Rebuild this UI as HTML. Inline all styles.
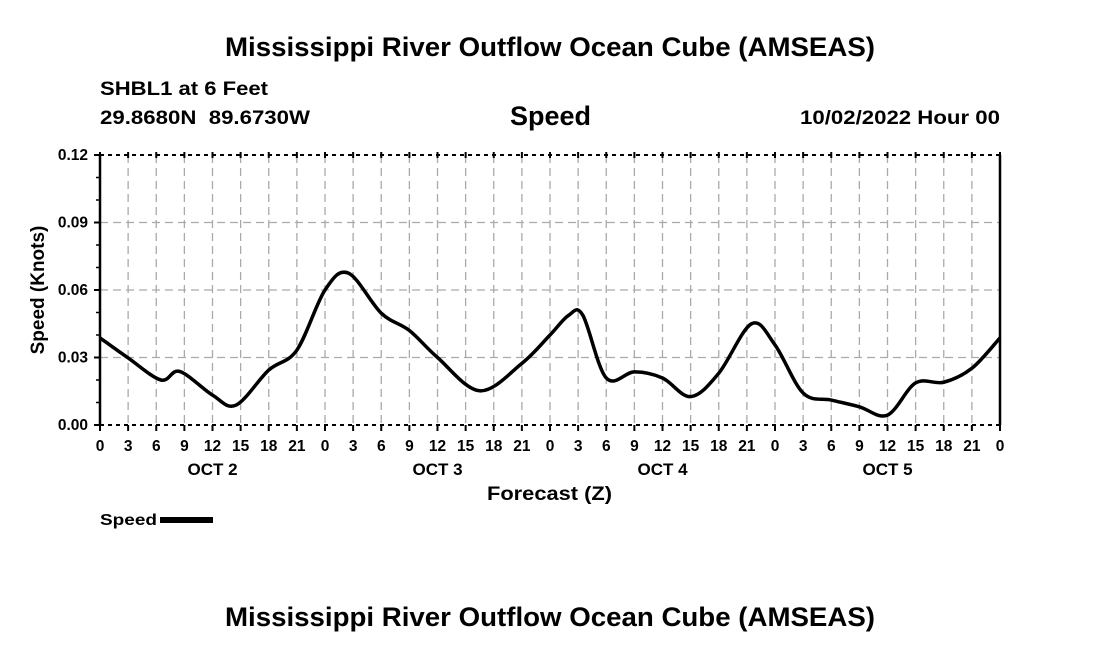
<!DOCTYPE html>
<html><head><meta charset="utf-8"><style>
body{margin:0;background:#fff;width:1100px;height:650px;overflow:hidden;font-family:"Liberation Sans",Arial,sans-serif}
svg text{font-family:"Liberation Sans",Arial,sans-serif;font-weight:bold;fill:#000}
</style></head><body>
<svg id="chart" width="1100" height="650" xmlns="http://www.w3.org/2000/svg">
<text x="225" y="56" font-size="27" textLength="650" lengthAdjust="spacingAndGlyphs">Mississippi River Outflow Ocean Cube (AMSEAS)</text>
<text x="100" y="95" font-size="19" textLength="168" lengthAdjust="spacingAndGlyphs">SHBL1 at 6 Feet</text>
<text x="100" y="124" font-size="19" textLength="210" lengthAdjust="spacingAndGlyphs">29.8680N&#160;&#160;89.6730W</text>
<text x="510" y="125" font-size="27" textLength="81" lengthAdjust="spacingAndGlyphs">Speed</text>
<text x="800" y="124" font-size="19" textLength="200" lengthAdjust="spacingAndGlyphs">10/02/2022 Hour 00</text>
<g id="grid"></g><g id="axes"></g><g id="series"></g>
<text transform="translate(44,290) rotate(-90)" font-size="19" text-anchor="middle">Speed (Knots)</text>
<text x="487" y="500" font-size="19" textLength="125" lengthAdjust="spacingAndGlyphs">Forecast (Z)</text>
<g>
<text x="100" y="525" font-size="16" textLength="57" lengthAdjust="spacingAndGlyphs">Speed</text>
<rect x="160" y="517" width="53" height="6" fill="#000"/>
</g>
<text x="225" y="626" font-size="27" textLength="650" lengthAdjust="spacingAndGlyphs">Mississippi River Outflow Ocean Cube (AMSEAS)</text>
</svg>
<script>
const hours=[0,3,6.5,8.5,12,14.5,18,21,24,26.5,30,33,36,40.5,45,48,50,51.5,54,57,60,63,66,69.5,72,75,78,81,84,87,90,93,96];
const speeds=[0.0387,0.0298,0.0200,0.0238,0.0133,0.0088,0.0244,0.0333,0.060,0.0675,0.0497,0.042,0.030,0.0152,0.0274,0.040,0.0488,0.0488,0.0209,0.0236,0.0209,0.0126,0.023,0.045,0.0356,0.0142,0.0111,0.0081,0.0044,0.0187,0.019,0.0252,0.0387];
const yTicks=[0,0.03,0.06,0.09,0.12];
const hourLabels=["0","3","6","9","12","15","18","21"];
const dayLabels=["OCT 2","OCT 3","OCT 4","OCT 5"];
const X0=100,X1=1000,Y0=425,Y1=155;
const sx=h=>X0+(h/96)*(X1-X0);
const sy=v=>Y0-(v/0.12)*(Y0-Y1);
const NS="http://www.w3.org/2000/svg";
function mk(t,a,p){const e=document.createElementNS(NS,t);for(const k in a)e.setAttribute(k,a[k]);p.appendChild(e);return e;}
const grid=document.getElementById('grid'),axes=document.getElementById('axes'),ser=document.getElementById('series');
for(let h=3;h<96;h+=3){const l=mk('line',{x1:sx(h),x2:sx(h),y1:Y1,y2:Y0,stroke:'#aaa','stroke-width':1.3,'stroke-dasharray':'8,5'},grid);

}
yTicks.forEach(v=>{if(v>0&&v<0.12){const l=mk('line',{x1:X0,x2:X1,y1:sy(v),y2:sy(v),stroke:'#aaa','stroke-width':1.3,'stroke-dasharray':'8,5'},grid);

}
const t=mk('text',{x:X0-12,y:sy(v)+5,'font-size':15.5,'text-anchor':'end'},axes);t.textContent=v.toFixed(2);


mk('line',{x1:X0-6,x2:X0,y1:sy(v),y2:sy(v),stroke:'#000','stroke-width':2},axes);});
for(let v=0.01;v<0.12;v+=0.01)mk('line',{x1:X0-4,x2:X0,y1:sy(v),y2:sy(v),stroke:'#000','stroke-width':1.5},axes);
mk('line',{x1:X0,x2:X0,y1:Y1,y2:Y0,stroke:'#000','stroke-width':2.5},axes);
mk('line',{x1:X1,x2:X1,y1:Y1,y2:Y0,stroke:'#000','stroke-width':2.5},axes);
mk('line',{x1:X0,x2:X1,y1:Y1,y2:Y1,stroke:'#000','stroke-width':2,'stroke-dasharray':'4,4'},axes);
mk('line',{x1:X0,x2:X1,y1:Y0,y2:Y0,stroke:'#000','stroke-width':2,'stroke-dasharray':'4,4'},axes);
for(let h=0;h<=96;h+=3){mk('line',{x1:sx(h),x2:sx(h),y1:Y0,y2:Y0+6,stroke:'#000','stroke-width':2},axes);
mk('line',{x1:sx(h),x2:sx(h),y1:Y1-3,y2:Y1+3,stroke:'#000','stroke-width':2},axes);
const t=mk('text',{x:sx(h),y:Y0+26,'font-size':15.5,'text-anchor':'middle'},axes);t.textContent=hourLabels[(h/3)%8];

}
dayLabels.forEach((d,i)=>{const t=mk('text',{x:sx(i*24+12),y:Y0+50,'font-size':17,'text-anchor':'middle'},axes);t.textContent=d;

});
const P=hours.map((h,i)=>[sx(h),sy(speeds[i])]);
let d=`M${P[0][0]},${P[0][1]}`;
for(let i=0;i<P.length-1;i++){const p0=P[Math.max(0,i-1)],p1=P[i],p2=P[i+1],p3=P[Math.min(P.length-1,i+2)];
d+=` C${p1[0]+(p2[0]-p0[0])/6},${p1[1]+(p2[1]-p0[1])/6} ${p2[0]-(p3[0]-p1[0])/6},${p2[1]-(p3[1]-p1[1])/6} ${p2[0]},${p2[1]}`;}
const line=mk('path',{d:d,fill:'none',stroke:'#000','stroke-width':3.5,'stroke-linejoin':'round'},ser);


</script>
</body></html>
